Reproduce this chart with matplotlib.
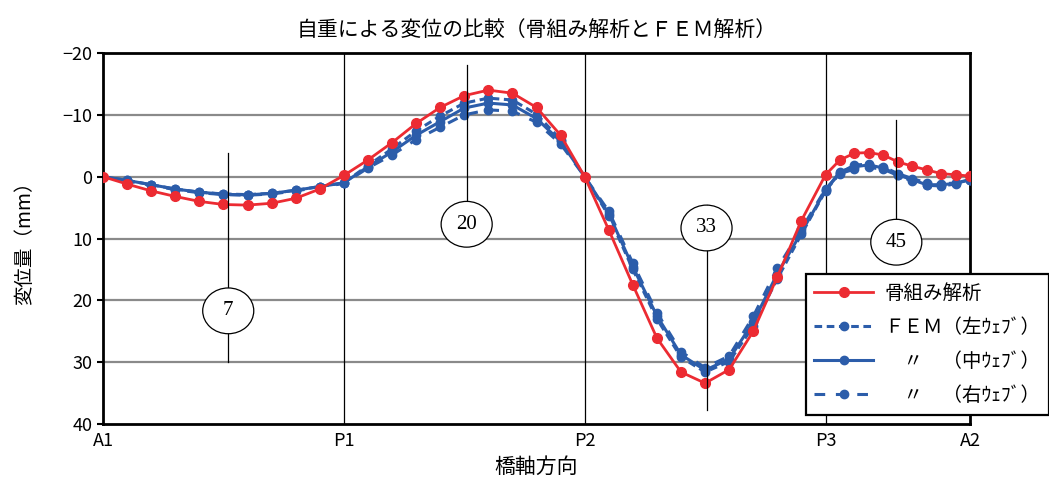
import matplotlib
matplotlib.use("Agg")
import matplotlib.pyplot as plt
from matplotlib.patches import Ellipse

plt.rcParams['font.family'] = ['Noto Sans CJK JP', 'DejaVu Sans']

# node positions along the bridge (each span split in 10)
x_nodes = [0, 5, 10, 15, 20, 25, 30, 35, 40, 45, 50,
           55, 60, 65, 70, 75, 80, 85, 90, 95, 100,
           105, 110, 115, 120, 125, 130, 135, 140, 145, 150,
           153, 156, 159, 162, 165, 168, 171, 174, 177, 180]

# displacement (mm), downward positive
frame = [0, 1.2, 2.3, 3.2, 4.0, 4.5, 4.6, 4.3, 3.5, 2.0, -0.2,
         -2.7, -5.5, -8.6, -11.2, -13.1, -14.0, -13.5, -11.2, -6.7, 0.0,
         8.6, 17.5, 26.1, 31.6, 33.4, 31.2, 25.0, 16.2, 7.1, -0.3,
         -2.7, -3.8, -3.9, -3.5, -2.4, -1.7, -1.1, -0.5, -0.3, -0.1]

fem_left = [0, 0.6, 1.3, 2.0, 2.5, 2.8, 2.9, 2.7, 2.2, 1.6, 1.0,
            -1.8, -4.5, -7.4, -9.8, -11.9, -12.7, -12.4, -10.1, -6.0, 0.0,
            6.3, 15.0, 23.0, 29.2, 31.6, 29.9, 24.2, 16.5, 9.3, 2.3,
            -0.6, -1.9, -2.0, -1.6, -0.5, 0.3, 1.0, 1.2, 1.0, 0.5]

fem_mid = [0, 0.6, 1.3, 2.0, 2.5, 2.85, 2.95, 2.7, 2.2, 1.6, 1.0,
           -1.6, -4.0, -6.7, -8.9, -11.1, -11.9, -11.6, -9.4, -5.7, 0.0,
           6.0, 14.6, 22.5, 28.8, 31.3, 29.5, 23.5, 15.7, 9.0, 2.2,
           -0.8, -1.6, -1.9, -1.4, -0.3, 0.5, 1.3, 1.3, 1.1, 0.5]

fem_right = [0, 0.7, 1.4, 2.1, 2.6, 2.9, 3.0, 2.8, 2.3, 1.7, 1.1,
             -1.4, -3.5, -6.0, -8.0, -10.0, -10.8, -10.6, -8.8, -5.3, 0.0,
             5.6, 14.0, 22.0, 28.3, 30.9, 29.0, 22.6, 14.8, 8.5, 2.0,
             -0.5, -1.2, -1.5, -1.2, -0.2, 0.7, 1.4, 1.5, 1.2, 0.6]

support_pos = [0, 50, 100, 150, 180]
support_names = ["A1", "P1", "P2", "P3", "A2"]

# callout numbers: (label, x, line top, line bottom, circle centre y)
callouts = [("7", 26, -3.8, 30.0, 21.7),
            ("20", 75.5, -18.1, 5.0, 7.7),
            ("33", 125.3, 4.6, 37.7, 8.3),
            ("45", 164.7, -9.2, 7.0, 10.6)]

red = "#EC2B32"
blue = "#2C5DAA"

fig = plt.figure(figsize=(10.49, 4.88), dpi=100)
ax = fig.add_axes([103/1049, 64/488, 867/1049, 371/488])

for yv in range(-10, 40, 10):
    ax.axhline(yv, color="#8a8a8a", lw=1.6, zorder=1)
for xv in support_pos[1:-1]:
    ax.axvline(xv, color="black", lw=0.9, zorder=1)

ax.plot(x_nodes, frame, "-o", color=red, lw=2.0, ms=7, label="骨組み解析", zorder=4)
ax.plot(x_nodes, fem_left, linestyle=(0, (2.5, 1.5)), marker="o", color=blue, lw=2.2, ms=6,
        label="ＦＥＭ（左ｳｪﾌﾞ）", zorder=3)
ax.plot(x_nodes, fem_mid, "-o", color=blue, lw=2.2, ms=6, label="　〃　（中ｳｪﾌﾞ）", zorder=3)
ax.plot(x_nodes, fem_right, linestyle=(0, (3.5, 3.5)), marker="o", color=blue, lw=2.2, ms=6,
        label="　〃　（右ｳｪﾌﾞ）", zorder=3)

for lab, cx, top, bot, cy in callouts:
    ax.plot([cx, cx], [top, bot], color="black", lw=0.9, zorder=5)
    ax.add_patch(Ellipse((cx, cy), 10.6, 7.4, facecolor="white", edgecolor="black", lw=0.9, zorder=6))
    ax.text(cx, cy, lab, ha="center", va="center", fontsize=15, family="Liberation Serif", zorder=7)

ax.set_xlim(0, 180)
ax.set_ylim(40, -20)
ax.set_xticks(support_pos)
ax.set_xticklabels(support_names)
ax.set_yticks(range(-20, 41, 10))
ax.tick_params(axis="x", length=0, labelsize=13, pad=6)
ax.tick_params(axis="y", length=4, width=1.5, labelsize=13, direction="out")
for s in ax.spines.values():
    s.set_linewidth(2.0)

ax.set_title("自重による変位の比較（骨組み解析とＦＥＭ解析）", fontsize=15, pad=12)
ax.set_xlabel("橋軸方向", fontsize=15, labelpad=4)
ax.set_ylabel("変位量（mm）", fontsize=14, labelpad=20)

leg = ax.legend(loc="upper left", bbox_to_anchor=(796/1049, 1 - 264/488), bbox_transform=fig.transFigure,
                fontsize=14, handlelength=3.0, handletextpad=0.6, labelspacing=0.68, borderpad=0.45,
                fancybox=False, edgecolor="black", framealpha=1)
leg.get_frame().set_linewidth(1.6)
leg.set_zorder(10)

fig.savefig("out.png", dpi=100)
